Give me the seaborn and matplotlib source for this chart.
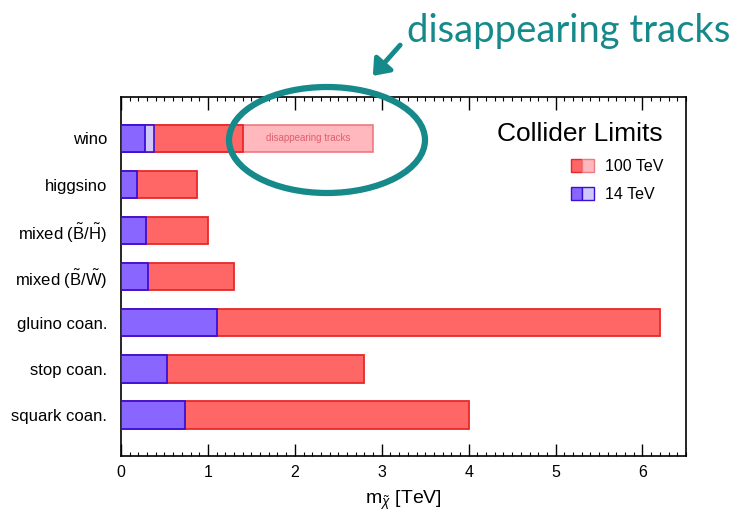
import matplotlib
matplotlib.use("Agg")
import matplotlib.pyplot as plt
import seaborn as sns
import pandas as pd
from matplotlib.patches import Patch, Ellipse, FancyArrowPatch
from matplotlib.legend_handler import HandlerTuple
from matplotlib.ticker import MultipleLocator

# ---------------- data ----------------
categories = ["wino", "higgsino", r"mixed ($\mathrm{\tilde{B}/\tilde{H}}$)",
              r"mixed ($\mathrm{\tilde{B}/\tilde{W}}$)", "gluino coan.",
              "stop coan.", "squark coan."]
limit_100tev = [1.40, 0.87, 1.00, 1.30, 6.20, 2.80, 4.00]
limit_14tev = [0.28, 0.18, 0.29, 0.31, 1.11, 0.53, 0.74]
wino_14tev_extra = 0.38          # light (optimistic) 14 TeV reach for wino
wino_disappearing = 2.90         # disappearing-tracks reach at 100 TeV
legend_labels = ["100 TeV", "14 TeV"]
x_ticks = [0, 1, 2, 3, 4, 5, 6]

# ---------------- style ----------------
sns.set_style("white")
plt.rcParams["font.family"] = ["Liberation Sans", "DejaVu Sans"]
plt.rcParams["mathtext.fontset"] = "custom"
plt.rcParams["mathtext.rm"] = "Liberation Sans"
plt.rcParams["mathtext.it"] = "Liberation Sans:italic"
plt.rcParams["mathtext.bf"] = "Liberation Sans:bold"
plt.rcParams["text.color"] = "black"
plt.rcParams["axes.labelcolor"] = "black"
plt.rcParams["xtick.color"] = "black"
plt.rcParams["ytick.color"] = "black"

RED = "#FF6666"
RED_EDGE = "#E82828"
PINK = "#FFB8BE"
PINK_EDGE = "#F07880"
BLUE = "#8866FF"
BLUE_EDGE = "#3A10D8"
LBLUE = "#D0C8F8"
TEAL = "#16898A"

fig = plt.figure(figsize=(7.36, 5.12), dpi=100)
ax = fig.add_axes([0.1644, 0.109, 0.7676, 0.7015])

df = pd.DataFrame({"cat": categories, "v100": limit_100tev, "v14": limit_14tev})

# disappearing tracks (behind everything)
ax.barh(0, wino_disappearing, height=0.6, color=PINK, edgecolor=PINK_EDGE,
        linewidth=1.2, zorder=1)

sns.barplot(data=df, x="v100", y="cat", order=categories, orient="h",
            color=RED, saturation=1, width=0.6, edgecolor=RED_EDGE,
            linewidth=1.3, ax=ax, zorder=2)

ax.barh(0, wino_14tev_extra, height=0.6, color=LBLUE, edgecolor=BLUE_EDGE,
        linewidth=1.2, zorder=3)

sns.barplot(data=df, x="v14", y="cat", order=categories, orient="h",
            color=BLUE, saturation=1, width=0.6, edgecolor=BLUE_EDGE,
            linewidth=1.3, ax=ax, zorder=4)

ax.text((limit_100tev[0] + wino_disappearing) / 2, 0, "disappearing tracks",
        ha="center", va="center", fontsize=7, color="#E0606C", zorder=5)

# axes
ax.set_xlim(0, 6.5)
ax.set_ylim(6.9, -0.9)
ax.set_xticks(x_ticks)
ax.set_xticklabels([str(t) for t in x_ticks], fontsize=11.5)
ax.xaxis.set_minor_locator(MultipleLocator(0.1))
ax.tick_params(axis="x", which="major", direction="in", length=9, width=1,
               top=True, bottom=True, pad=6, colors="black")
ax.tick_params(axis="x", which="minor", direction="in", length=3, width=0.8,
               top=True, bottom=True)
ax.tick_params(axis="y", length=0, labelsize=12, pad=10, labelcolor="black")
for s in ax.spines.values():
    s.set_visible(True)
    s.set_color("black")
    s.set_linewidth(1.2)
ax.set_xlabel(r"$\mathrm{m}_{\tilde{\chi}}$ [TeV]", fontsize=14, labelpad=7,
              color="black")
ax.set_ylabel("")

# legend
h100 = (Patch(facecolor=RED, edgecolor=RED_EDGE), Patch(facecolor=PINK, edgecolor=PINK_EDGE))
h14 = (Patch(facecolor=BLUE, edgecolor=BLUE_EDGE), Patch(facecolor=LBLUE, edgecolor=BLUE_EDGE))
leg = ax.legend([h100, h14], legend_labels, title="Collider Limits",
                handler_map={tuple: HandlerTuple(ndivide=None, pad=0)},
                loc="upper right", bbox_to_anchor=(0.985, 0.97), frameon=False,
                fontsize=11.5, title_fontsize=19, handlelength=1.4,
                handleheight=0.9, handletextpad=0.7, labelspacing=0.8,
                alignment="right", labelcolor="black")
leg.get_title().set_color("black")

# annotation outside the axes
fig.text(0.993, 0.94, "disappearing tracks", ha="right", va="center",
         fontsize=27.5, color=TEAL, family=["Lato", "DejaVu Sans"])
fig.patches.append(Ellipse((327 / 736, 1 - 140 / 512), 196 / 736, 106 / 512,
                           angle=0, fill=False, edgecolor=TEAL, linewidth=4.5,
                           transform=fig.transFigure, figure=fig, zorder=10))
fig.patches.append(FancyArrowPatch((402 / 736, 1 - 43 / 512), (371 / 736, 1 - 78 / 512),
                                   arrowstyle="-|>,head_length=9,head_width=7",
                                   color=TEAL, linewidth=3.5, mutation_scale=1,
                                   transform=fig.transFigure, figure=fig, zorder=10))

fig.savefig("out.png", dpi=100)
